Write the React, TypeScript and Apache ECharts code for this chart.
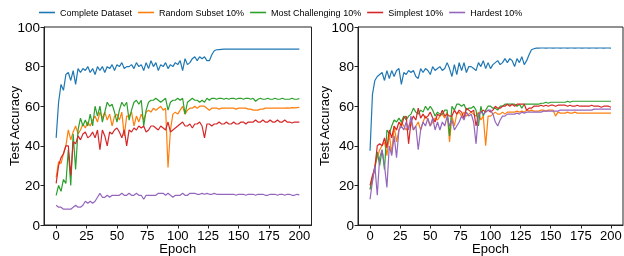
import React, { useEffect, useRef } from "react";
import * as echarts from "echarts";

const epochs: number[] = Array.from({ length: 101 }, (_, i) => i * 2);
const xTicks = [0, 25, 50, 75, 100, 125, 150, 175, 200];
const names = ["Complete Dataset", "Random Subset 10%", "Most Challenging 10%", "Simplest 10%", "Hardest 10%"];
const colors = ["#1f77b4", "#ff7f0e", "#2ca02c", "#d62728", "#9467bd"];

// Left panel (values at epochs 0,2,...,200)
const leftComplete = [
  44, 62, 71, 68, 76, 77, 73, 78, 71, 79,
  77, 79, 78, 80, 77, 79, 76, 80, 78, 80,
  77, 80, 79, 81, 78, 81, 80, 82, 79, 80,
  80, 81, 79, 82, 80, 81, 78, 82, 79, 83,
  80, 82, 78, 81, 80, 82, 79, 81, 80, 82,
  81, 83, 78, 84, 81, 82, 84, 85, 83, 85,
  84, 85, 83, 83, 86, 88, 88.5, 88.6, 88.7, 88.8,
  88.8, 88.9, 88.8, 88.9, 88.8, 88.8, 88.9, 88.8, 88.9, 88.8,
  88.9, 88.8, 88.8, 88.9, 88.8, 88.9, 88.8, 88.8, 88.9, 88.8,
  88.8, 88.9, 88.8, 88.9, 88.8, 88.8, 88.9, 88.8, 88.8, 88.9,
  88.8,
];
const leftRandom = [
  24, 32, 31, 36, 40, 48, 43, 47, 50, 46,
  48, 51, 49, 52, 50, 53, 55, 52, 57, 54,
  57, 53, 56, 50, 55, 56, 53, 57, 45, 55,
  55, 57, 50, 55, 52, 56, 53, 57, 58, 57,
  59, 58, 59, 60, 58, 59, 29, 48, 56, 57,
  56, 58, 60, 56, 58, 59, 59, 60, 59, 60,
  60, 60, 59, 58, 59, 59, 59, 58.5, 59, 59,
  59, 59, 59, 59, 58.5, 59, 59, 59, 59, 58.5,
  58.5, 58, 58, 58, 58.5, 58.5, 59, 59, 59, 59,
  59, 59, 59, 59, 59, 59.2, 59, 59.3, 59.2, 59.3,
  59.4,
];
const leftChallenging = [
  15, 20, 17, 23, 21, 38, 20, 46, 28, 48,
  54, 50, 53, 50, 56, 50, 60, 55, 60, 52,
  57, 62, 60, 61, 57, 52, 58, 62, 60, 62,
  53, 58, 62, 63, 61, 63, 50, 58, 62, 63,
  63, 64, 63, 62, 63, 64, 58, 62, 63, 63,
  64, 63, 64, 56, 62, 63, 64, 63, 63, 62,
  63, 62, 64, 63, 64, 64, 63.5, 64, 64, 63.5,
  64, 63.5, 64, 64, 63.5, 64, 64, 63.5, 64, 64,
  63.5, 64, 62.5, 63.5, 64, 63.5, 63.5, 64, 63.5, 63.5,
  64, 63.5, 63.5, 64, 63.5, 63.5, 63.5, 64, 63.5, 63.5,
  63.8,
];
const leftSimplest = [
  21, 30, 34, 36, 40, 40, 25, 42, 41, 45,
  43, 46, 47, 44, 45, 47, 44, 48, 38, 48,
  45, 40, 47, 46, 48, 49, 47, 44, 48, 40,
  48, 47, 49, 48, 50, 49, 50, 47, 48, 50,
  50, 49, 48, 50, 49, 48, 52, 47, 48, 49,
  50, 51, 52, 50, 50, 51, 49, 51, 51, 52,
  50, 44, 51, 51, 50, 51, 51, 52, 51, 51,
  52, 51, 51, 52, 51, 51, 52, 52, 51, 52,
  52, 52, 53, 52, 52, 53, 52, 52, 53, 52,
  52, 53, 52, 52, 53, 52, 52, 51.5, 52, 52,
  52,
];
const leftHardest = [
  10, 9, 9, 8, 8, 8, 8, 9, 10, 9,
  9, 10, 12, 11, 12, 11, 12, 14, 16, 14,
  14, 15, 14, 15, 15, 15, 15, 16, 15, 15,
  16, 15, 15, 16, 15, 15, 13, 15, 15, 15,
  15, 15, 16, 16, 16, 15, 16, 15, 14, 15,
  15, 15, 16, 15, 15, 16, 16, 16, 15.5, 15.5,
  16, 15.5, 16, 15.5, 15.5, 16, 15.5, 15.5, 15.5, 15.5,
  15.5, 15.5, 15.5, 15.5, 15, 15.5, 15.5, 15.5, 15, 15.5,
  15.5, 15.5, 15, 15.5, 15.5, 15.5, 15, 15, 15.5, 15.5,
  15.5, 15, 15.5, 15.5, 15, 15.5, 15.5, 15, 15, 15.5,
  15.2,
];

// Right panel
const rightComplete = [
  37.5, 66, 73, 75, 76, 77, 73, 78, 74, 78,
  75, 78, 79, 71, 77, 76, 78, 77, 78, 75,
  74, 79, 77, 79, 78, 76, 80, 78, 79, 80,
  78, 79, 82, 79, 75, 81, 76, 82, 78, 82,
  77, 80, 80, 79, 78, 82, 80, 83, 79, 82,
  79, 81, 82, 83, 81, 82, 84, 82, 84, 83,
  80, 84, 82, 85, 81, 83, 86, 88.5, 89, 89.3,
  89.3, 89.4, 89.4, 89.3, 89.4, 89.4, 89.3, 89.4, 89.4, 89.3,
  89.4, 89.4, 89.3, 89.4, 89.4, 89.3, 89.4, 89.4, 89.3, 89.4,
  89.4, 89.3, 89.4, 89.4, 89.3, 89.4, 89.4, 89.3, 89.4, 89.4,
  89.3,
];
const rightRandom = [
  18, 22, 30, 34, 38, 40, 42, 35, 46, 36,
  50, 42, 48, 52, 50, 48, 50, 52, 48, 50,
  52, 48, 52, 55, 53, 50, 52, 54, 53, 55,
  56, 54, 57, 42, 55, 50, 56, 57, 55, 57,
  55, 56, 57, 56, 55, 57, 53, 55, 40, 55,
  55, 56, 57, 56, 56, 57, 56, 57, 57, 57,
  57, 57.5, 57, 57.5, 57, 58, 57.5, 58, 57.5, 57.5,
  57.5, 58, 58, 57.5, 58, 58, 58, 55, 57, 56.5,
  56.5, 56.5, 57, 56.5, 56.5, 57, 56.5, 56.5, 56.5, 56.5,
  56.5, 56.5, 56.5, 56.5, 56.5, 56.5, 56.5, 56.5, 56.5, 56.5,
  56.5,
];
const rightChallenging = [
  18, 24, 28, 37, 30, 38, 28, 48, 46, 50,
  53, 52, 54, 52, 55, 53, 55, 56, 59, 57,
  56, 58, 57, 60, 58, 60, 58, 55, 57, 56,
  56, 58, 58, 45, 60, 58, 61, 61, 60, 61,
  58, 59, 59, 60, 58, 50, 60, 55, 58, 60,
  60, 59, 59, 58, 60, 60, 61, 61, 61, 61,
  61, 60, 61, 59, 61, 61, 61, 61, 61, 61,
  61, 61.5, 61.5, 62, 61.5, 62, 62, 62, 62, 62,
  62, 62, 62.5, 62, 62.5, 62.5, 62.5, 62.5, 62.5, 62.5,
  62.5, 62.5, 62.5, 62.5, 62.5, 62.5, 62.5, 62.5, 62.5, 62.5,
  62.5,
];
const rightSimplest = [
  20, 25, 29, 40, 41, 40, 44, 39, 48, 44,
  50, 48, 52, 50, 54, 55, 41, 52, 55, 53,
  59, 54, 56, 54, 55, 57, 54, 52, 56, 55,
  58, 55, 56, 55, 55, 58, 56, 58, 57, 54,
  59, 58, 57, 58, 50, 56, 57, 58, 57, 58,
  57, 58, 60, 59, 59, 60, 60, 61, 60, 61,
  60, 61, 61, 61, 61, 58, 59, 59, 60, 60,
  60, 60.5, 60, 60.5, 60, 60.5, 60.5, 60, 60.5, 60.5,
  60.5, 60.5, 60, 60.5, 60, 60, 60.5, 60, 60, 60,
  60, 60, 60.5, 60, 60, 60, 59.5, 60, 60, 60,
  59.5,
];
const rightHardest = [
  13, 22, 30, 15, 34, 38, 30, 19, 40, 35,
  45, 34, 48, 50, 48, 52, 48, 55, 48, 50,
  38, 48, 52, 50, 54, 50, 54, 48, 52, 48,
  52, 50, 55, 50, 53, 48, 50, 52, 55, 53,
  57, 55, 56, 52, 41, 56, 57, 56, 57, 58,
  58, 56, 52, 50, 53, 55, 55, 56, 56, 56,
  56, 56.5, 56, 57, 56.5, 57, 57, 57, 57, 57,
  57, 57, 57.5, 57.5, 57.5, 57.5, 57.5, 57.5, 57.5, 58,
  58, 58, 58, 58, 58, 58, 58, 58, 58, 58,
  58, 58, 58, 58.5, 58.5, 58.5, 58.5, 58.5, 58.5, 58.5,
  58.5,
];

const leftSeries = [leftComplete, leftRandom, leftChallenging, leftSimplest, leftHardest];
const rightSeries = [rightComplete, rightRandom, rightChallenging, rightSimplest, rightHardest];

const FONT = "'Liberation Sans', Arial, sans-serif";

function makeX(gridIndex: number) {
  return {
    type: "value",
    gridIndex,
    min: -10,
    max: 210,
    name: "Epoch",
    nameLocation: "middle",
    nameGap: 17.5,
    nameMoveOverlap: false,
    nameTextStyle: { fontSize: 13, lineHeight: 12, color: "#000", fontFamily: FONT },
    axisLine: { show: true, onZero: false, lineStyle: { color: "#222", width: 1 } },
    axisTick: { show: true, length: 3.5, lineStyle: { color: "#222" }, customValues: xTicks },
    axisLabel: { fontSize: 13, lineHeight: 11, color: "#000", fontFamily: FONT, margin: 4.5, customValues: xTicks },
    splitLine: { show: false },
  };
}
function makeY(gridIndex: number, gap: number) {
  return {
    type: "value",
    gridIndex,
    min: 0,
    max: 100,
    interval: 20,
    name: "Test Accuracy",
    nameLocation: "middle",
    nameGap: gap,
    nameMoveOverlap: false,
    nameTextStyle: { fontSize: 13, color: "#000", fontFamily: FONT },
    axisLine: { show: true, onZero: false, lineStyle: { color: "#222", width: 1 } },
    axisTick: { show: true, length: 3.5, lineStyle: { color: "#222" } },
    axisLabel: { fontSize: 13.5, lineHeight: 12, color: "#000", fontFamily: FONT, margin: 4 },
    splitLine: { show: false },
  };
}

export default function App() {
  const ref = useRef<HTMLDivElement>(null);
  useEffect(() => {
    if (!ref.current) return;
    const chart = echarts.init(ref.current, undefined, { renderer: "svg" });
    const series: any[] = [];
    [leftSeries, rightSeries].forEach((set, g) => {
      set.forEach((vals, k) => {
        series.push({
          type: "line",
          name: names[k],
          xAxisIndex: g,
          yAxisIndex: g,
          data: vals.map((v, i) => [epochs[i], v]),
          showSymbol: false,
          symbol: "none",
          lineStyle: { width: 1.2, color: colors[k] },
          itemStyle: { color: colors[k] },
          emphasis: { disabled: true },
        });
      });
    });
    chart.setOption({
      animation: false,
      textStyle: { fontFamily: FONT },
      color: colors,
      legend: {
        data: names,
        left: 34,
        top: 3,
        itemWidth: 16,
        itemHeight: 1.6,
        itemGap: 6,
        icon: "rect",
        textStyle: { fontSize: 9, color: "#000", fontFamily: FONT },
      },
      grid: [
        { left: 44, top: 27, width: 267.5, height: 198, show: true, borderColor: "#222", borderWidth: 1, containLabel: false, outerBoundsMode: "none" },
        { left: 358, top: 27, width: 265, height: 198, show: true, borderColor: "#222", borderWidth: 1, containLabel: false, outerBoundsMode: "none" },
      ],
      xAxis: [makeX(0), makeX(1)],
      yAxis: [makeY(0, 23), makeY(1, 27)],
      series,
    });
    return () => chart.dispose();
  }, []);
  return <div ref={ref} style={{ position: "fixed", left: 0, top: 0, width: 624, height: 256 }} />;
}
